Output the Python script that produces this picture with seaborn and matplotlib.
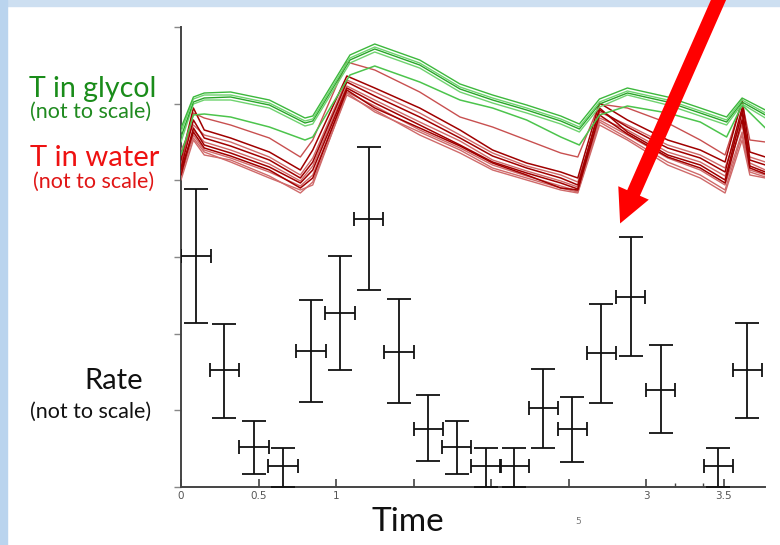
import numpy as np
import pandas as pd
import matplotlib
matplotlib.use("Agg")
import matplotlib.pyplot as plt
import seaborn as sns
from matplotlib.patches import Rectangle, FancyArrowPatch

# ---------------- data ----------------
# Rate (not to scale): bin centres, values and error limits
rate_time = [0.097, 0.279, 0.471, 0.658, 0.839, 1.026, 1.211, 1.406, 1.595, 1.779,
             1.968, 2.150, 2.337, 2.525, 2.712, 2.901, 3.095, 3.466, 3.654]
rate = [3.01, 1.52, 0.52, 0.27, 1.78, 2.27, 3.49, 1.76, 0.76, 0.52,
        0.27, 0.27, 1.03, 0.76, 1.75, 2.48, 1.27, 0.27, 1.53]
rate_hi = [3.89, 2.13, 0.86, 0.51, 2.44, 3.01, 4.43, 2.45, 1.20, 0.86,
           0.51, 0.51, 1.54, 1.18, 2.39, 3.26, 1.85, 0.51, 2.14]
rate_lo = [2.14, 0.90, 0.17, 0.00, 1.11, 1.52, 2.57, 1.10, 0.34, 0.17,
           0.00, 0.00, 0.51, 0.32, 1.10, 1.71, 0.70, 0.00, 0.90]
bin_half = 0.094

# Temperature in glycol (arbitrary units)
glycol_time = [0.00, 0.08, 0.15, 0.32, 0.57, 0.80, 0.85, 1.09, 1.25, 1.54, 1.80,
               2.01, 2.23, 2.45, 2.57, 2.70, 2.88, 3.14, 3.35, 3.52, 3.62, 3.77]
glycol_1 = [35.9, 39.0, 39.4, 39.5, 38.7, 36.9, 37.1, 43.2, 44.3, 42.7, 40.3,
            39.2, 38.2, 37.1, 36.3, 38.8, 39.9, 39.0, 37.9, 37.0, 38.9, 37.7]
glycol_2 = [35.5, 38.8, 39.2, 39.2, 38.4, 36.6, 36.8, 42.9, 44.0, 42.4, 40.0,
            38.9, 37.9, 36.8, 36.0, 38.5, 39.6, 38.7, 37.6, 36.7, 38.7, 37.4]
glycol_3 = [35.0, 38.5, 38.9, 39.0, 38.2, 36.4, 36.6, 42.7, 43.8, 42.2, 39.8,
            38.7, 37.7, 36.6, 35.8, 38.3, 39.4, 38.5, 37.4, 36.5, 38.5, 37.2]
glycol_4 = [34.5, 38.3, 38.7, 38.7, 37.9, 36.1, 36.3, 42.4, 43.5, 41.9, 39.5,
            38.4, 37.4, 36.3, 35.5, 38.0, 39.2, 38.2, 37.1, 36.2, 38.3, 36.9]
glycol_5 = [33.2, 37.2, 37.3, 37.0, 36.0, 34.7, 35.0, 41.2, 42.1, 40.5, 38.7,
            37.9, 36.7, 35.0, 34.2, 37.2, 38.1, 37.4, 36.5, 35.0, 38.2, 35.9]

# Temperature in water (arbitrary units)
water_time = [0.00, 0.08, 0.15, 0.32, 0.57, 0.77, 0.85, 1.07, 1.25, 1.54, 1.80, 2.01,
              2.23, 2.45, 2.56, 2.70, 2.88, 3.14, 3.35, 3.51, 3.62, 3.67, 3.77]
water_a = [32.2, 37.4, 36.9, 36.2, 34.9, 33.0, 34.7, 42.5, 41.7, 39.5, 37.0, 36.0,
           34.7, 33.4, 33.0, 38.3, 37.9, 36.4, 34.7, 33.2, 38.5, 34.7, 34.5]
water_1 = [32.7, 37.9, 35.7, 34.9, 33.5, 31.7, 33.7, 41.1, 39.9, 37.9, 35.7, 33.7,
           32.4, 31.5, 30.9, 38.4, 36.7, 34.7, 33.7, 32.5, 38.7, 33.5, 33.0]
water_2 = [33.7, 36.2, 35.2, 34.5, 33.0, 31.2, 32.9, 40.7, 39.5, 37.4, 35.2, 33.4,
           32.1, 31.2, 30.5, 37.5, 36.2, 34.2, 33.2, 31.9, 36.9, 33.0, 32.5]
water_3 = [31.9, 36.7, 34.9, 34.1, 32.7, 30.9, 32.5, 40.5, 39.1, 37.0, 34.9, 33.1,
           31.9, 30.9, 30.2, 37.7, 36.0, 33.9, 32.9, 31.5, 37.9, 32.7, 32.2]
water_4 = [31.5, 35.7, 34.5, 33.7, 32.3, 30.6, 32.1, 40.1, 38.7, 36.5, 34.6, 32.7,
           31.6, 30.6, 30.0, 36.9, 35.7, 33.5, 32.5, 31.1, 36.2, 32.4, 31.7]
water_5 = [31.2, 35.9, 34.2, 33.4, 32.0, 30.4, 31.7, 39.9, 38.4, 36.2, 34.2, 32.5,
           31.4, 30.4, 29.8, 37.9, 35.5, 33.2, 32.2, 30.7, 37.5, 32.1, 31.5]
water_6 = [31.0, 35.2, 33.7, 32.9, 31.5, 30.1, 31.2, 39.5, 38.1, 35.7, 33.9, 32.2,
           31.1, 30.1, 29.6, 36.7, 35.2, 32.9, 31.7, 30.2, 35.5, 31.7, 31.2]
water_7 = [31.7, 35.5, 33.9, 33.1, 31.7, 29.9, 30.9, 39.7, 37.9, 35.9, 34.1, 32.4,
           31.2, 29.9, 29.7, 37.2, 35.3, 33.0, 31.9, 30.4, 36.7, 31.9, 31.3]
water_8 = [30.7, 34.7, 33.2, 32.7, 31.1, 29.4, 30.5, 39.2, 37.7, 35.2, 33.4, 31.7,
           30.7, 29.7, 29.4, 36.2, 34.7, 32.2, 30.9, 29.4, 34.7, 31.2, 30.9]
water_9 = [32.2, 34.9, 33.5, 32.5, 30.9, 29.7, 30.2, 39.4, 37.5, 35.5, 33.7, 31.9,
           30.9, 29.9, 29.5, 36.5, 34.9, 32.5, 31.2, 29.7, 35.2, 31.5, 31.0]

x_ticks = [0, 0.5, 1, 1.5, 2, 2.5, 3, 3.5]
x_tick_labels = ["0", "0.5", "1", "", "", "", "3", "3.5"]

# ---------------- figure ----------------
sns.set_theme(style="white")
plt.rcParams["font.family"] = ["Lato", "DejaVu Sans"]

W, H = 780, 545
fig = plt.figure(figsize=(7.8, 5.45), dpi=100)
fig.patch.set_facecolor("white")

# slide background border (light blue)
fig.add_artist(Rectangle((0, 1 - 6 / H), 1, 6 / H, transform=fig.transFigure,
                         color="#cddff1", zorder=0))
fig.add_artist(Rectangle((0, 0), 7 / W, 1, transform=fig.transFigure,
                         color="#bad4ee", zorder=0))

x0, x1 = 181, 765
y0, y1 = 487, 27
ax = fig.add_axes([x0 / W, 1 - y0 / H, (x1 - x0) / W, (y0 - y1) / H])
ax.set_facecolor("none")
ax.set_xlim(0, (x1 - x0) / 155.0)
ax.set_ylim(0, 6)

for s in ["top", "right"]:
    ax.spines[s].set_visible(False)
for s in ["left", "bottom"]:
    ax.spines[s].set_color("#444444")
    ax.spines[s].set_linewidth(1.4)

ax.set_xticks(x_ticks)
ax.set_xticklabels(x_tick_labels, fontsize=7.5, color="#555555",
                   family="DejaVu Sans")
ax.set_xticks([3.19, 3.37], minor=True)
ax.tick_params(axis="x", which="major", direction="in", length=6, width=1.2,
               color="#444444", pad=3, bottom=True)
ax.tick_params(axis="x", which="minor", direction="in", length=3, width=1.0,
               color="#444444", bottom=True)
ax.set_yticks([0, 1, 2, 3, 4, 5, 6])
ax.set_yticklabels([])
ax.tick_params(axis="y", direction="out", length=5, width=1.0,
               color="#888888", left=True)
ax.grid(False)

# rate error bars
rt = np.array(rate_time)
rv = np.array(rate)
yerr = [rv - np.array(rate_lo), np.array(rate_hi) - rv]
ax.errorbar(rt, rv, yerr=yerr, fmt="none", ecolor="#111111", elinewidth=1.3,
            capsize=8.5, capthick=1.3, zorder=3)
ax.errorbar(rt, rv, xerr=bin_half, fmt="none", ecolor="#111111", elinewidth=1.3,
            capsize=5, capthick=1.3, zorder=3)

# temperature on its own (not to scale) axis
ax2 = ax.twinx()
ax2.set_ylim(0, 46.0)
ax2.set_xlim(ax.get_xlim())
for s in ax2.spines.values():
    s.set_visible(False)
ax2.set_yticks([])
ax2.grid(False)

water_curves = [
    (water_8, "#cf6a6a", 1.0), (water_6, "#cf6a6a", 1.0), (water_9, "#cf6a6a", 1.0),
    (water_4, "#cf6a6a", 1.0), (water_2, "#cf6a6a", 1.0), (water_a, "#c85050", 1.0),
    (water_7, "#a00000", 1.1), (water_5, "#a00000", 1.1), (water_3, "#a00000", 1.1),
    (water_1, "#a00000", 1.1),
]
for vals, c, lw in water_curves:
    sns.lineplot(x=water_time, y=vals, ax=ax2, color=c, lw=lw, estimator=None,
                 sort=False)

glycol_curves = [
    (glycol_5, "#4cc44c", 1.1), (glycol_4, "#6fd36f", 1.0), (glycol_3, "#2aa52a", 1.0),
    (glycol_2, "#6fd36f", 1.0), (glycol_1, "#3cb83c", 1.0),
]
for vals, c, lw in glycol_curves:
    sns.lineplot(x=glycol_time, y=vals, ax=ax2, color=c, lw=lw, estimator=None,
                 sort=False)
ax2.set_xlabel("")
ax2.set_ylabel("")

# side labels
def ftxt(x, y, s, **kw):
    fig.text(x / W, 1 - y / H, s, ha="center", va="center", **kw)

ftxt(93, 89, "T in glycol", fontsize=20.5, color="#1a8c1a")
ftxt(91, 112, "(not to scale)", fontsize=15.5, color="#1f8a1f")
ftxt(95, 158, "T in water", fontsize=21, color="#ee1111")
ftxt(94, 182, "(not to scale)", fontsize=15.5, color="#e01515")
ftxt(114, 381, "Rate", fontsize=21, color="#111111")
ftxt(91, 412, "(not to scale)", fontsize=15.5, color="#111111")
ftxt(408, 522, "Time", fontsize=24, color="#111111")
ftxt(578, 522, "5", fontsize=6.5, color="#777777", family="DejaVu Sans")

# red arrow
arrow = FancyArrowPatch(posA=(722 / W, 1 + 8 / H), posB=(619 / W, 1 - 226 / H),
                        transform=fig.transFigure,
                        arrowstyle="simple,head_length=2.4,head_width=2.4,tail_width=1.0",
                        mutation_scale=10, color="#ff0000", lw=0, zorder=10)
fig.add_artist(arrow)

fig.savefig("out.png", dpi=100)
